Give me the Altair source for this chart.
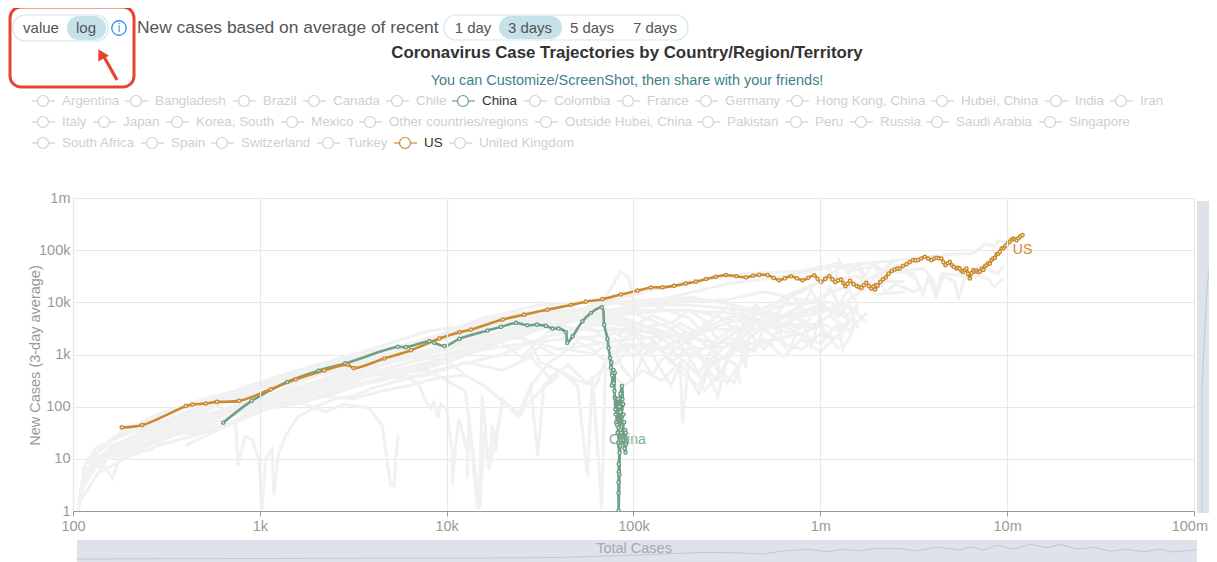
import altair as alt
import pandas as pd

FONT = "Liberation Sans"
PLOT_LEFT, PLOT_TOP = 73, 198
PLOT_W, PLOT_H = 1121, 313

# Every series: (log10 total cases, log10 new cases).
us = [(2.261,1.602),(2.371,1.647),(2.604,2.009),(2.639,2.041),(2.711,2.060),(2.770,2.092),(2.889,2.111),
      (3.059,2.333),(3.193,2.524),(3.345,2.695),(3.470,2.804),(3.502,2.740),(3.666,2.924),(3.809,3.083),
      (3.961,3.306),(4.068,3.427),(4.13,3.478),(4.30,3.669),(4.415,3.764),(4.54,3.86),(4.665,3.949),
      (4.745,4.013),(4.834,4.06),(4.932,4.15),(5.021,4.225),(5.093,4.285),(5.155,4.287),(5.217,4.316),
      (5.28,4.36),(5.334,4.396),(5.388,4.447),(5.44,4.49),(5.495,4.524),(5.55,4.50),(5.602,4.479),
      (5.64,4.51),(5.673,4.525),(5.718,4.522),(5.75,4.47),(5.78,4.423),(5.81,4.46),(5.843,4.5),
      (5.875,4.46),(5.905,4.423),(5.935,4.47),(5.968,4.519),(5.985,4.45),(6.004,4.391),(6.026,4.45),
      (6.048,4.5),(6.065,4.44),(6.08,4.391),(6.095,4.42),(6.111,4.436),(6.122,4.37),(6.134,4.308),
      (6.146,4.36),(6.159,4.41),(6.178,4.35),(6.196,4.31),(6.208,4.29),(6.22,4.278),(6.233,4.33),
      (6.246,4.374),(6.26,4.31),(6.273,4.265),(6.284,4.30),(6.296,4.329),(6.293,4.246),(6.307,4.32),
      (6.321,4.393),(6.335,4.44),(6.35,4.476),(6.365,4.55),(6.382,4.60),(6.398,4.629),(6.412,4.645),
      (6.425,4.649),(6.443,4.70),(6.461,4.732),(6.478,4.77),(6.496,4.808),(6.51,4.805),(6.523,4.808),
      (6.54,4.84),(6.559,4.872),(6.577,4.84),(6.595,4.808),(6.608,4.835),(6.621,4.853),(6.635,4.845),
      (6.648,4.840),(6.659,4.77),(6.67,4.712),(6.682,4.75),(6.693,4.776),(6.705,4.71),(6.715,4.68),
      (6.729,4.649),(6.738,4.66),(6.746,4.649),(6.755,4.60),(6.764,4.585),(6.773,4.62),(6.782,4.649),
      (6.79,4.55),(6.8,4.457),(6.809,4.56),(6.818,4.617),(6.827,4.59),(6.836,4.61),(6.845,4.58),
      (6.854,4.585),(6.863,4.64),(6.872,4.62),(6.88,4.69),(6.889,4.712),(6.898,4.75),(6.907,4.74),
      (6.916,4.81),(6.925,4.840),(6.934,4.85),(6.943,4.92),(6.952,4.93),(6.961,4.968),(6.97,5.03),
      (6.98,5.04),(6.988,5.07),(6.996,5.096),(7.006,5.15),(7.014,5.16),(7.023,5.20),(7.032,5.224),
      (7.041,5.21),(7.05,5.192),(7.06,5.23),(7.07,5.265),(7.082,5.288)]

china = [(2.804,1.691),(2.957,2.111),(3.146,2.473),(3.314,2.689),(3.457,2.829),(3.738,3.147),(3.782,3.140),
         (3.907,3.255),(3.934,3.223),(3.988,3.162),(4.068,3.299),(4.219,3.459),(4.291,3.529),(4.371,3.605),
         (4.433,3.561),(4.483,3.573),(4.531,3.548),(4.567,3.497),(4.599,3.497),(4.638,3.427),(4.645,3.223),
         (4.674,3.35),(4.727,3.637),(4.772,3.796),(4.831,3.904),(4.843,3.573),(4.861,3.299),(4.866,3.127),
         (4.875,2.936),(4.879,2.745),(4.882,2.85),(4.886,2.6),(4.888,2.65),(4.884,2.408),(4.893,2.7),
         (4.895,2.45),(4.9,2.65),(4.898,2.3),(4.9,2.172),(4.903,1.95),(4.91,2.15),(4.905,1.85),(4.918,2.15),
         (4.907,1.7),(4.925,2.0),(4.93,2.25),(4.938,2.395),(4.941,2.14),(4.922,1.9),(4.912,1.65),(4.93,1.9),
         (4.945,2.05),(4.915,1.5),(4.947,1.85),(4.92,1.6),(4.925,1.3),(4.95,1.7),(4.935,1.5),(4.918,1.31),
         (4.925,1.12),(4.921,0.9),(4.921,0.75),(4.92,0.55),(4.92,0.35),(4.92,0.006),(4.925,0.7),(4.93,1.25),
         (4.955,1.55),(4.952,1.2),(4.957,1.12),(4.958,1.5),(4.96,1.28),(4.93,1.36)]

spain = [(2.05,0.4),(2.12,1.1),(2.25,1.5),(2.45,1.85),(2.7,2.15),(3.0,2.42),(3.3,2.72),(3.6,3.0),(3.9,3.3),(4.2,3.62),(4.5,3.82),(4.8,3.88),(5.0,3.8),(5.2,3.5),(5.35,3.0),(5.4,2.7),(5.45,2.5),(5.5,2.9),(5.55,3.3),(5.65,3.75),(5.8,3.95),(6.0,4.0),(6.1,3.75),(6.15,3.95),(6.2,3.5)]
italy = [(2.08,0.9),(2.2,1.35),(2.4,1.75),(2.6,2.0),(2.9,2.3),(3.2,2.6),(3.5,2.88),(3.8,3.15),(4.1,3.42),(4.4,3.7),(4.7,3.8),(4.95,3.7),(5.1,3.5),(5.25,3.2),(5.35,2.65),(5.38,2.3),(5.45,2.6),(5.6,3.4),(5.8,4.1),(6.0,4.4),(6.2,4.5),(6.3,4.15),(6.45,4.2)]
brazil = [(2.1,0.8),(2.3,1.3),(2.6,1.85),(2.9,2.2),(3.2,2.5),(3.5,2.75),(3.8,3.0),(4.1,3.25),(4.4,3.55),(4.7,3.85),(5.0,4.15),(5.3,4.4),(5.6,4.55),(5.9,4.6),(6.1,4.75),(6.15,4.6),(6.3,4.7),(6.35,4.55),(6.45,4.6),(6.55,4.65),(6.6,4.45),(6.62,4.2),(6.65,4.55),(6.8,4.5),(6.85,4.7),(6.95,4.55),(6.98,4.7)]
india = [(2.04,0.2),(2.2,1.1),(2.5,1.6),(2.8,1.95),(3.1,2.25),(3.4,2.6),(3.7,2.85),(4.0,3.1),(4.3,3.35),(4.6,3.6),(4.9,3.85),(5.2,4.1),(5.5,4.35),(5.8,4.5),(6.1,4.7),(6.4,4.8),(6.7,4.92),(6.816,4.936),(6.887,5.128),(6.93,5.08),(6.959,5.19),(6.99,5.14),(7.03,5.256)]
germany = [(2.03,0.0),(2.06,0.7),(2.2,1.2),(2.5,1.55),(2.8,1.9),(3.1,2.25),(3.4,2.55),(3.7,2.85),(4.0,3.2),(4.3,3.55),(4.6,3.75),(4.9,3.5),(5.1,3.3),(5.2,2.9),(5.25,2.65),(5.35,2.4),(5.4,2.8),(5.5,3.0),(5.6,3.4),(5.8,3.7),(6.0,3.95),(6.1,3.7)]
uk = [(2.06,0.5),(2.15,1.0),(2.35,1.5),(2.6,1.85),(2.9,2.25),(3.2,2.55),(3.5,2.85),(3.8,3.15),(4.1,3.5),(4.4,3.75),(4.7,3.72),(4.95,3.55),(5.1,3.4),(5.3,3.0),(5.45,2.85),(5.55,3.1),(5.65,3.4),(5.8,3.75),(6.0,4.1),(6.1,4.25),(6.2,4.35),(6.35,4.62),(6.42,4.72),(6.5,4.45)]
france = [(2.05,0.6),(2.2,1.25),(2.5,1.65),(2.8,2.05),(3.1,2.4),(3.4,2.7),(3.7,3.0),(4.0,3.3),(4.3,3.6),(4.6,3.82),(4.8,3.9),(4.95,3.6),(5.1,3.0),(5.2,2.4),(5.25,2.8),(5.262,1.68),(5.3,3.0),(5.5,3.3),(5.7,3.9),(5.9,4.2),(6.0,4.4),(6.1,4.65),(6.2,4.7),(6.25,4.3),(6.3,4.5),(6.35,4.2),(6.4,4.35),(6.5,4.2),(6.55,4.3)]
russia = [(2.1,1.0),(2.4,1.4),(2.7,1.75),(3.0,2.15),(3.3,2.6),(3.6,2.9),(3.9,3.3),(4.2,3.7),(4.5,3.95),(4.8,4.02),(5.0,3.95),(5.3,3.95),(5.6,3.85),(5.8,3.72),(5.95,3.75),(6.1,3.9),(6.25,4.3),(6.35,4.4),(6.45,4.4)]
mexico = [(2.2,1.1),(2.5,1.55),(2.8,1.9),(3.1,2.25),(3.4,2.5),(3.7,2.85),(4.0,3.1),(4.3,3.35),(4.6,3.6),(4.9,3.75),(5.2,3.85),(5.5,3.8),(5.7,3.65),(5.9,3.55),(6.0,3.6),(6.1,3.45),(6.15,3.65)]
turkey = [(2.3,1.4),(2.6,1.8),(3.0,2.45),(3.3,2.8),(3.6,3.1),(3.9,3.45),(4.2,3.6),(4.5,3.7),(4.7,3.35),(4.9,3.15),(5.1,3.15),(5.3,3.1),(5.5,3.15),(5.7,3.25),(5.9,3.4),(6.0,3.55),(6.1,3.1)]
iran = [(2.1,0.9),(2.3,1.3),(2.6,1.8),(2.9,2.35),(3.2,2.7),(3.5,2.95),(3.8,3.2),(4.1,3.4),(4.4,3.3),(4.6,3.1),(4.8,3.2),(5.0,3.3),(5.2,3.35),(5.4,3.5),(5.6,3.45),(5.8,3.55),(6.0,3.95),(6.1,3.8),(6.2,3.55)]
peru = [(2.6,1.5),(2.9,1.9),(3.2,2.25),(3.5,2.55),(3.8,2.85),(4.1,3.1),(4.4,3.45),(4.7,3.65),(5.0,3.85),(5.3,3.85),(5.6,3.6),(5.8,3.55),(6.0,3.2),(6.05,3.4)]
chile = [(2.4,1.4),(2.7,1.75),(3.0,2.1),(3.3,2.4),(3.6,2.6),(3.9,2.75),(4.2,3.3),(4.5,3.65),(4.8,3.7),(5.0,3.6),(5.2,3.4),(5.4,3.25),(5.6,3.2),(5.75,3.2)]
colombia = [(2.3,1.1),(2.6,1.6),(2.9,1.95),(3.2,2.3),(3.5,2.4),(3.8,2.7),(4.1,3.05),(4.4,3.4),(4.7,3.7),(5.0,3.95),(5.3,4.1),(5.6,3.9),(5.8,3.75),(6.0,3.85),(6.15,3.95),(6.25,3.6)]
argentina = [(2.2,1.0),(2.5,1.4),(2.8,1.85),(3.1,2.0),(3.4,2.3),(3.7,2.55),(4.0,2.85),(4.3,3.25),(4.6,3.6),(4.9,3.85),(5.2,4.0),(5.5,4.05),(5.7,4.2),(5.9,4.05),(6.05,4.0),(6.15,3.75),(6.2,3.95)]
south_africa = [(2.2,1.2),(2.5,1.6),(2.8,1.85),(3.1,2.0),(3.4,2.25),(3.7,2.6),(4.0,2.95),(4.3,3.3),(4.6,3.7),(4.9,4.0),(5.2,4.08),(5.5,4.0),(5.7,3.5),(5.8,3.2),(5.9,3.1),(6.0,3.4),(6.1,3.3),(6.2,3.9)]
canada = [(2.1,0.85),(2.35,1.4),(2.65,1.85),(2.95,2.35),(3.25,2.7),(3.55,3.0),(3.85,3.25),(4.15,3.6),(4.4,3.8),(4.65,3.85),(4.85,3.3),(4.95,2.7),(5.0,2.5),(5.05,3.0),(5.2,3.2),(5.35,3.45),(5.5,3.7),(5.65,3.8),(5.8,3.6),(5.9,3.5)]
saudi = [(2.3,1.15),(2.6,1.6),(2.9,2.0),(3.2,2.25),(3.5,2.55),(3.8,2.85),(4.1,3.1),(4.4,3.5),(4.6,3.55),(4.8,3.45),(5.0,3.5),(5.2,3.6),(5.3,3.4),(5.5,2.9),(5.55,2.8),(5.57,2.45)]
bangladesh = [(2.6,1.25),(2.8,1.6),(3.0,2.0),(3.3,2.3),(3.6,2.6),(3.9,2.85),(4.2,3.1),(4.5,3.25),(4.8,3.35),(5.0,3.45),(5.2,3.4),(5.35,3.1),(5.45,2.19),(5.5,2.9)]
pakistan = [(2.04,0.8),(2.17,0.86),(2.21,0.63),(2.245,0.98),(2.32,1.11),(2.42,1.18),(2.48,1.37),(2.58,1.5),(2.69,1.56),(2.78,1.65),(2.87,1.69),(2.884,0.86),(2.92,1.43),(2.96,1.37),(2.995,0.98),(3.013,0.03),(3.03,1.0),(3.066,1.18),(3.075,0.31),(3.1,1.1),(3.137,1.43),(3.2,1.8),(3.3,2.0),(3.4,2.15),(3.5,2.2),(3.6,2.35),(3.8,2.55),(4.0,2.75),(4.3,3.0),(4.5,3.3),(4.7,3.5)]
hong_kong = [(2.3,1.3),(2.6,1.7),(2.9,2.0),(3.2,2.1),(3.35,1.9),(3.45,2.05),(3.584,1.97),(3.62,1.8),(3.655,1.64),(3.673,1.19),(3.70,0.49),(3.718,0.49),(3.727,1.0),(3.741,1.45)]
korea = [(2.4,1.5),(2.7,1.9),(3.0,2.4),(3.4,2.7),(3.7,2.7),(3.85,2.45),(3.879,2.18),(3.914,1.96),(3.932,2.09),(3.955,1.8),(3.968,2.05),(4.0,1.95),(4.007,1.77),(4.03,1.13),(4.03,0.49),(4.048,1.26),(4.066,1.77),(4.11,1.13),(4.11,0.62),(4.12,1.77),(4.164,0.04),(4.177,0.62),(4.19,2.21),(4.227,0.81),(4.245,1.64),(4.26,1.13),(4.298,2.15),(4.379,1.83),(4.5,2.3),(4.6,2.6)]
singapore = [(3.3,2.2),(3.6,2.6),(3.9,2.7),(4.1,2.3),(4.178,0.04),(4.2,1.5),(4.228,0.8),(4.3,2.1),(4.38,1.82),(4.45,2.4),(4.487,1.06),(4.52,2.4),(4.6,2.7),(4.7,2.4),(4.754,0.68),(4.78,2.6),(4.83,0.04),(4.85,2.9),(4.95,3.2),(5.0,3.2)]
other = [(4.6,3.5),(4.75,3.9),(4.85,4.1),(4.932,4.588),(4.977,4.46),(5.0,4.0),(5.1,3.95),(5.3,3.7),(5.42,3.2),(5.46,2.7),(5.54,2.45),(5.6,3.2)]
switzerland = [(2.03,0.1),(2.06,0.85),(2.12,1.2),(2.3,1.5),(2.5,1.75),(2.75,2.1),(3.0,2.38),(3.25,2.62),(3.5,2.92),(3.75,3.15),(4.0,3.38),(4.25,3.62),(4.35,3.5),(4.45,3.2),(4.5,2.85),(4.6,2.7),(4.7,2.5),(4.8,2.4),(4.85,2.9),(5.0,3.2),(5.1,2.6),(5.15,2.9),(5.3,3.3),(5.45,3.55),(5.6,3.7),(5.75,3.6)]
japan = [(2.15,1.0),(2.3,1.2),(2.5,1.45),(2.65,1.5),(2.8,1.6),(3.0,1.9),(3.2,2.15),(3.4,2.4),(3.6,2.75),(3.8,2.95),(4.0,2.9),(4.1,2.6),(4.2,2.4),(4.3,2.1),(4.4,1.85),(4.45,2.4),(4.55,2.85),(4.65,3.1),(4.8,3.0),(4.9,2.8),(5.0,3.2),(5.2,3.1),(5.35,2.6),(5.4,3.0),(5.5,3.35),(5.65,3.05),(5.7,3.55),(5.85,3.4),(5.95,3.7)]
outside_hubei = [(4.8,3.75),(5.0,3.55),(5.1,3.75),(5.2,3.6),(5.3,3.85),(5.4,3.6),(5.5,3.9),(5.6,3.65),(5.65,3.95),(5.75,3.7),(5.85,4.15),(5.9,3.85),(5.95,4.25),(6.0,3.9),(6.05,4.3),(6.1,3.95),(6.15,4.25),(6.2,3.95)]
hubei = [(5.0,3.35),(5.1,3.1),(5.2,3.5),(5.3,3.25),(5.38,3.6),(5.45,3.3),(5.55,3.55),(5.6,2.75),(5.62,3.4),(5.7,3.1),(5.78,3.45),(5.83,3.0),(5.9,3.7),(5.95,3.15),(6.0,3.75),(6.02,3.3),(6.1,3.6),(6.12,3.1),(6.18,3.5)]
legs = [(6.3,4.65),(6.4,4.6),(6.5,4.55),(6.55,4.15),(6.58,4.5),(6.62,4.1),(6.66,4.5),(6.72,4.4),(6.74,4.05),(6.77,4.45),(6.85,4.5),(6.9,4.45),(6.93,4.3),(6.98,4.45)]
upper_spikes = [(6.0,4.4),(6.05,4.6),(6.08,4.35),(6.1,4.8),(6.15,4.55),(6.2,4.75),(6.24,4.5),(6.28,4.75),(6.32,4.5),(6.36,4.7),(6.4,4.8)]
cloud_a = [(4.4,2.9),(4.5,3.15),(4.6,2.95),(4.7,3.25),(4.8,3.05),(4.9,3.3),(5.0,2.95),(5.1,3.25),(5.2,2.85),(5.3,3.15),(5.4,2.85),(5.5,3.2),(5.6,3.0),(5.7,3.3),(5.8,2.95),(5.9,3.3),(6.0,3.05),(6.1,3.4)]
cloud_b = [(4.3,3.2),(4.4,2.95),(4.55,3.45),(4.65,3.3),(4.75,3.55),(4.85,3.55),(4.95,3.3),(5.05,3.55),(5.15,3.35),(5.25,3.6),(5.35,3.4),(5.45,3.75),(5.55,3.45),(5.65,3.6),(5.75,3.35),(5.85,3.75),(5.95,3.5),(6.05,3.75),(6.15,3.45),(6.25,3.8)]
cloud_c = [(3.5,2.4),(3.7,2.55),(3.9,2.6),(4.1,2.85),(4.3,2.7),(4.45,2.95),(4.55,2.55),(4.65,2.8),(4.75,2.45),(4.85,2.75),(4.95,2.4),(5.05,2.7),(5.15,2.5),(5.25,2.85),(5.35,2.25),(5.42,2.85),(5.5,2.45),(5.6,2.95)]
low_left = [(2.15,0.75),(2.3,1.05),(2.45,1.25),(2.6,1.4),(2.75,1.55),(2.9,1.75),(3.05,2.0),(3.2,2.05),(3.35,2.2),(3.5,2.15),(3.65,2.3),(3.8,2.4),(3.95,2.55),(4.1,2.6)]

gray_series = {"Spain": spain, "Italy": italy, "Brazil": brazil, "India": india, "Germany": germany,
               "United Kingdom": uk, "France": france, "Russia": russia, "Mexico": mexico, "Turkey": turkey,
               "Iran": iran, "Peru": peru, "Chile": chile, "Colombia": colombia, "Argentina": argentina,
               "South Africa": south_africa, "Canada": canada, "Saudi Arabia": saudi, "Bangladesh": bangladesh,
               "Pakistan": pakistan, "Hong Kong, China": hong_kong, "Korea, South": korea,
               "Singapore": singapore, "Other countries/regions": other, "Switzerland": switzerland,
               "Japan": japan, "Outside Hubei, China": outside_hubei, "Hubei, China": hubei,
               "Legs": legs, "Upper": upper_spikes, "Cloud A": cloud_a, "Cloud B": cloud_b, "Cloud C": cloud_c,
               "Low left": low_left}

# Zoom sliders: the overview shapes are plotted through the same log scales.
bottom_overview = [(2.021,-0.92),(4.286,-0.90),(4.607,-0.891),(5.035,-0.843),(5.357,-0.795),(5.535,-0.80),(5.696,-0.824),(5.802,-0.766),(5.928,-0.734),(6.035,-0.78),(6.124,-0.734),(6.213,-0.766),(6.284,-0.722),(6.427,-0.722),(6.517,-0.766),(6.624,-0.696),(6.748,-0.747),(6.802,-0.684),(6.873,-0.747),(6.945,-0.657),(7.034,-0.734),(7.123,-0.638),(7.213,-0.703),(7.284,-0.638),(7.373,-0.728),(7.462,-0.696),(7.551,-0.772),(7.641,-0.734),(7.73,-0.78),(7.819,-0.734),(7.89,-0.785),(8.015,-0.747)]
right_overview = [(8.042,-0.038),(8.042,2.318),(8.069,4.234),(8.103,5.383),(8.124,5.9)]

legend_names = ["Argentina","Bangladesh","Brazil","Canada","Chile","China","Colombia","France","Germany","Hong Kong, China","Hubei, China","India","Iran",
                "Italy","Japan","Korea, South","Mexico","Other countries/regions","Outside Hubei, China","Pakistan","Peru","Russia","Saudi Arabia","Singapore",
                "South Africa","Spain","Switzerland","Turkey","US","United Kingdom"]
legend_text_left = [62,155,263,333,416,482,554,647,725,816,961,1075,1140,
                    62,123,196,311,389,565,727,815,880,956,1069,
                    62,171,241,347,424,479]
legend_row_y = [101]*13 + [122]*11 + [143]*6

US_COLOR = "#cc8a2e"
CHINA_COLOR = "#6f9f84"
GRAY = "#f1f1f1"
TEAL_PILL = "#c6e2e8"
PILL_EDGE = "#cfe8ee"
RED = "#e8432e"
SLIDER = "#dde2eb"
SLIDER_DARK = "#cdd5e0"
TEXT = "#555555"
AXIS_TEXT = "#999999"


def table(name, pairs):
    return pd.DataFrame({"country": name, "idx": range(len(pairs)),
                         "total": [10 ** p[0] for p in pairs],
                         "new": [10 ** p[1] for p in pairs]})


def px(v):
    return alt.value(v - PLOT_LEFT)


def py(v):
    return alt.value(v - PLOT_TOP)


LABEL_EXPR = ("datum.value >= 1e8 ? '' : datum.value >= 1e6 ? format(datum.value / 1e6, 'd') + 'm' : "
              "datum.value >= 1e3 ? format(datum.value / 1e3, 'd') + 'k' : format(datum.value, 'd')")
x_scale = alt.Scale(type="log", domain=[100, 1e8], nice=False)
y_scale = alt.Scale(type="log", domain=[1, 1e6], nice=False)
x_axis = alt.Axis(title="Total Cases", values=[1e2, 1e3, 1e4, 1e5, 1e6, 1e7, 1e8], labelExpr=LABEL_EXPR,
                  grid=True, gridColor="#e8e8e8", gridWidth=1.2, domainColor="#9a9a9a", domainWidth=1.2,
                  tickColor="#9a9a9a", tickSize=5, labelColor=AXIS_TEXT, labelFont=FONT, labelFontSize=14.5,
                  labelPadding=3, titleFont=FONT, titleFontSize=14.5, titleFontWeight="normal",
                  titleColor="#a3a8b4", titlePadding=9, zindex=1, labelFlush=False)
y_axis = alt.Axis(title="New Cases (3-day average)", values=[1, 10, 100, 1e3, 1e4, 1e5, 1e6], labelExpr=LABEL_EXPR,
                  grid=True, gridColor="#e8e8e8", gridWidth=1.2, domainColor="#e8e8e8", domainWidth=1.2,
                  tickSize=0, labelColor=AXIS_TEXT, labelFont=FONT, labelFontSize=14.5, labelPadding=3,
                  titleFont=FONT, titleFontSize=14.5, titleFontWeight="normal", titleColor=AXIS_TEXT,
                  titleX=-31, titleY=157)

X = alt.X("total:Q", scale=x_scale, axis=x_axis)
Y = alt.Y("new:Q", scale=y_scale, axis=y_axis)

gray_df = pd.concat([table(k, v) for k, v in gray_series.items()], ignore_index=True)
gray_lines = alt.Chart(gray_df).mark_line(color=GRAY, strokeWidth=3, clip=True, interpolate="linear").encode(
    x=X, y=Y, detail="country:N", order="idx:Q")


def series(name, pairs, color):
    df = table(name, pairs)
    line = alt.Chart(df).mark_line(color=color, strokeWidth=2.6, clip=True, interpolate="catmull-rom").encode(
        x=X, y=Y, order="idx:Q")
    points = alt.Chart(df).mark_point(color=color, fill="white", filled=False, opacity=1, fillOpacity=1,
                                      size=10, strokeWidth=1.5, clip=True).encode(x=X, y=Y)
    return line, points


china_line, china_pts = series("China", china, CHINA_COLOR)
us_line, us_pts = series("US", us, US_COLOR)

label_df = pd.concat([table("China", china[-1:]), table("US", us[-1:])])
china_label = alt.Chart(label_df[label_df.country == "China"]).mark_text(
    font=FONT, fontSize=14, color="#7fae96", dx=7).encode(x=X, y=Y, text="country:N")
us_label = alt.Chart(label_df[label_df.country == "US"]).mark_text(
    font=FONT, fontSize=14, color=US_COLOR, dy=15).encode(x=X, y=Y, text="country:N")
# The last tick label would pass the page's right edge if centred on its tick.
last_tick = alt.Chart(pd.DataFrame({"total": [1e8], "new": [1], "t": ["100m"]})).mark_text(
    font=FONT, fontSize=14.5, color=AXIS_TEXT, align="right", baseline="middle", dx=14, dy=16).encode(
    x=X, y=Y, text="t:N")

# Sliders
rail_bottom = alt.Chart().mark_rect(color=SLIDER).encode(x=px(77), x2=px(1197), y=py(540), y2=py(562))
rail_right = alt.Chart().mark_rect(color=SLIDER).encode(x=px(1197), x2=px(1217), y=py(201), y2=py(513))
bottom_df = table("bottom", bottom_overview)
right_df = table("right", right_overview)
over_bottom = alt.Chart(bottom_df).mark_area(color=SLIDER_DARK, line={"color": "#bfc8d6", "strokeWidth": 1}).encode(
    x=X, y=Y, y2=py(562))
over_right = alt.Chart(right_df).mark_area(color=SLIDER_DARK, orient="horizontal",
                                           line={"color": "#bfc8d6", "strokeWidth": 1}).encode(
    x=X, x2=px(1197), y=Y)

# Legend, laid out in page pixels
legend = pd.DataFrame({"name": legend_names, "tx": legend_text_left, "ry": legend_row_y})
legend["tx"] = legend["tx"] - PLOT_LEFT
legend["ry"] = legend["ry"] - PLOT_TOP
legend["cx"] = legend["tx"] - 19
legend["lx1"] = legend["tx"] - 30
legend["lx2"] = legend["tx"] - 7
icon_colors = {"China": CHINA_COLOR, "US": US_COLOR}
legend["icon"] = [icon_colors.get(n, "#d0d0d0") for n in legend_names]
legend["ink"] = ["#333333" if n in icon_colors else "#cfcfcf" for n in legend_names]
pxs = lambda f: alt.X(f, scale=None, axis=None)
pys = lambda f: alt.Y(f, scale=None, axis=None)
leg_rule = alt.Chart(legend).mark_rule(strokeWidth=1.2).encode(
    x=pxs("lx1:Q"), x2="lx2:Q", y=pys("ry:Q"), color=alt.Color("icon:N", scale=None, legend=None))
leg_circle = alt.Chart(legend).mark_point(size=120, fill="white", filled=False, fillOpacity=1, opacity=1, strokeWidth=1.2).encode(
    x=pxs("cx:Q"), y=pys("ry:Q"), color=alt.Color("icon:N", scale=None, legend=None))
leg_text = alt.Chart(legend).mark_text(font=FONT, fontSize=13.4, align="left", baseline="middle").encode(
    x=pxs("tx:Q"), y=pys("ry:Q"), text="name:N", color=alt.Color("ink:N", scale=None, legend=None))


def pill(x1, x2, y1, y2, fill=None, stroke=None, width=1.2, radius=12):
    kw = {"cornerRadius": radius}
    kw["fill"] = fill if fill else "transparent"
    if stroke:
        kw["stroke"] = stroke
        kw["strokeWidth"] = width
    return alt.Chart().mark_rect(**kw).encode(x=px(x1), x2=px(x2), y=py(y1), y2=py(y2))


def label(s, x, y, size=15, color=TEXT, align="center", weight="normal"):
    return alt.Chart().mark_text(text=s, font=FONT, fontSize=size, color=color, align=align, baseline="middle",
                                 fontWeight=weight).encode(x=px(x), y=py(y))


controls = [
    pill(13, 108, 15, 41, stroke=PILL_EDGE),
    pill(67, 106, 16, 40, fill=TEAL_PILL),
    label("value", 41, 28),
    label("log", 86, 28),
    alt.Chart().mark_point(size=210, color="#3f8fee", filled=False, opacity=1, strokeWidth=1.4).encode(x=px(119), y=py(28)),
    label("i", 119, 28, size=12, color="#3f8fee"),
    label("New cases based on average of recent", 137, 28, size=17.4, align="left"),
    pill(444, 688, 15, 40, stroke=PILL_EDGE),
    pill(499, 562, 16, 39, fill=TEAL_PILL),
    label("1 day", 473, 28),
    label("3 days", 530, 28),
    label("5 days", 592, 28),
    label("7 days", 655, 28),
    pill(10, 134, 7, 87, stroke=RED, width=3, radius=11),
    alt.Chart().mark_rule(color=RED, strokeWidth=3.2).encode(x=px(117), x2=px(103), y=py(80), y2=py(55)),
    alt.Chart().mark_point(shape="triangle-up", filled=True, color=RED, opacity=1, size=150, angle=331).encode(x=px(101), y=py(54)),
    label("Coronavirus Case Trajectories by Country/Region/Territory", 627, 53, size=16.85, color="#333333", weight="bold"),
    label("You can Customize/ScreenShot, then share with your friends!", 627, 81, size=14.45, color="#3f7f88"),
]

chart = alt.layer(
    rail_bottom, over_bottom, rail_right, over_right,
    gray_lines, china_line, us_line, china_pts, us_pts, china_label, us_label, last_tick,
    leg_rule, leg_circle, leg_text, *controls,
).resolve_scale(color="independent").properties(
    width=PLOT_W, height=PLOT_H,
    padding={"left": 65, "top": 190, "right": 15, "bottom": 51},
    autosize=alt.AutoSizeParams(type="none"),
    background="white",
).configure_view(stroke=None)

chart.save("out.html", embed_options={"renderer": "svg", "actions": False})
